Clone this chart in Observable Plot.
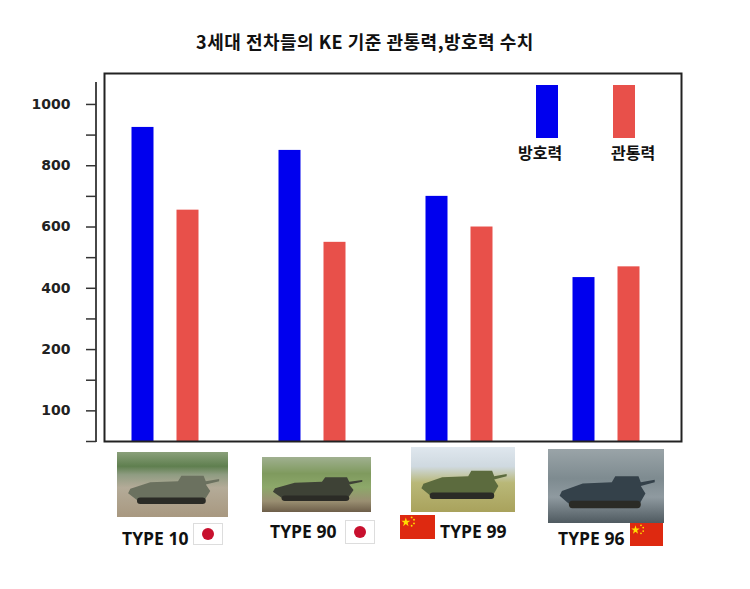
<!DOCTYPE html>
<html><head><meta charset="utf-8">
<script src="https://cdn.jsdelivr.net/npm/d3@7"></script>
<script src="https://cdn.jsdelivr.net/npm/@observablehq/plot@0.6"></script>
<style>
body{margin:0;background:#fff;}
#wrap{position:relative;width:750px;height:589px;overflow:hidden;font-family:"Noto Sans CJK KR","Noto Sans",sans-serif;}
#title{height:64px;box-sizing:border-box;padding-top:28px;padding-right:20px;text-align:center;font-weight:bold;font-size:18px;color:#111;letter-spacing:0.5px;}
#chart svg{display:block;}
.sw{position:absolute;}
.lg{position:absolute;font-weight:bold;font-size:16px;color:#111;}
.tlabel{position:absolute;font-family:"Open Sans",sans-serif;font-weight:bold;font-size:17.5px;color:#111;white-space:nowrap;}
.photo{position:absolute;overflow:hidden;}
.flagjp{position:absolute;background:#fff;border:1px solid #ddd;box-sizing:border-box;}
.flagjp::after{content:"";position:absolute;left:50%;top:50%;width:12px;height:12px;margin:-6px 0 0 -6px;border-radius:50%;background:#c8102e;}
.flagcn{position:absolute;background:#de2910;}
</style></head><body>
<div id="wrap">
<div id="title">3세대 전차들의 KE 기준 관통력,방호력 수치</div>
<div id="chart"></div>
</div>
<script>
// ---- data ----
const tanks = ["TYPE 10", "TYPE 90", "TYPE 99", "TYPE 96"];
const protection = [925, 850, 700, 435];   // 방호력
const penetration = [655, 550, 600, 470];  // 관통력
const seriesNames = ["방호력", "관통력"];
const seriesColors = ["#0000ee", "#e8504a"];
const tickValues = [0, 200, 400, 600, 800, 1000];
const tickLabels = ["100", "200", "400", "600", "800", "1000"];
const minorTicks = [-100, 0, 100, 200, 300, 400, 500, 600, 700, 800, 900, 1000];
const flags = ["JP", "JP", "CN", "CN"];
const yMin = -100, yMax = 1101;

const rows = tanks.flatMap((t, i) => [
  {tank: t, series: seriesNames[0], value: protection[i]},
  {tank: t, series: seriesNames[1], value: penetration[i]}
]);

const W = 750, H = 379, mL = 90, mR = 69, mT = 9, mB = 2;

const chart = Plot.plot({
  width: W, height: H,
  marginLeft: mL, marginRight: mR, marginTop: mT, marginBottom: mB,
  style: {background: "transparent", color: "#222"},
  x: {domain: tanks, paddingInner: 0.851, paddingOuter: 0.4255, axis: null},
  y: {domain: [yMin, yMax], axis: null},
  color: {domain: seriesNames, range: seriesColors},
  marks: [
    Plot.barY(rows.filter(d => d.series === seriesNames[0]), {x: "tank", y1: () => yMin, y2: "value", fill: "series", dx: -22.5}),
    Plot.barY(rows.filter(d => d.series === seriesNames[1]), {x: "tank", y1: () => yMin, y2: "value", fill: "series", dx: 22.5}),
    Plot.frame({insetLeft: 14, stroke: "#222", strokeWidth: 2}),
    Plot.axisY(minorTicks, {anchor: "left", label: null, tickSize: 10, dx: 6, stroke: "#333", strokeWidth: 1.5, tickFormat: () => ""}),
    Plot.axisY(tickValues, {anchor: "left", label: null, tickSize: 0, tickPadding: 26, dx: 6,
      tickFormat: d => tickLabels[tickValues.indexOf(d)],
      fontFamily: "DejaVu Sans", fontWeight: "bold", fontSize: 14, fill: "#222"})
  ]
});
document.getElementById("chart").appendChild(chart);

// vertical axis line drawn with the y scale
const ys = chart.scale("y");
d3.select(chart).append("line")
  .attr("x1", mL + 6).attr("x2", mL + 6)
  .attr("y1", ys.apply(1072)).attr("y2", ys.apply(yMin) + 1)
  .attr("stroke", "#333").attr("stroke-width", 1.8);

// ---- legend inside the plot ----
const wrap = document.getElementById("wrap");
function add(cls, style, html) {
  const el = document.createElement("div");
  el.className = cls;
  Object.assign(el.style, style);
  if (html) el.innerHTML = html;
  wrap.appendChild(el);
  return el;
}
const lgX = [536, 613], lgLabX = [518, 611];
seriesNames.forEach((s, i) => {
  add("sw", {left: lgX[i] + "px", top: "85px", width: "22px", height: "53px", background: seriesColors[i]});
  add("lg", {left: lgLabX[i] + "px", top: "140px"}, s);
});

// ---- photo placeholders, labels, flags ----
const photoBoxes = [
  {x: 117, y: 452, w: 111, h: 65, bg: "linear-gradient(#8aa07a 0%, #5f7f4f 22%, #8f9c82 35%, #b4ab98 55%, #a89880 100%)", tank: "#6b715f"},
  {x: 262, y: 457, w: 109, h: 55, bg: "linear-gradient(#a0b090 0%, #7f9a5e 30%, #8da86a 55%, #9a8f72 80%, #6d5e49 100%)", tank: "#3e4236"},
  {x: 411, y: 447, w: 104, h: 65, bg: "linear-gradient(#dfe7ee 0%, #cfd9e0 30%, #b9b878 55%, #a9a25c 100%)", tank: "#5c6b3e"},
  {x: 548, y: 449, w: 116, h: 74, bg: "linear-gradient(#9aa4a8 0%, #7e8b90 40%, #8f9aa0 65%, #4f5a60 100%)", tank: "#34414a"}
];
photoBoxes.forEach(p => {
  const el = add("photo", {left: p.x + "px", top: p.y + "px", width: p.w + "px", height: p.h + "px", background: p.bg});
  el.innerHTML = `<svg width="${p.w}" height="${p.h}" viewBox="0 0 100 60" preserveAspectRatio="none">
    <polygon points="12,34 30,28 55,27 58,22 78,22 80,27 92,25 92,27 80,30 84,36 78,46 20,46 10,38" fill="${p.tank}"/>
    <rect x="18" y="42" width="62" height="6" rx="3" fill="#2b2b26"/>
  </svg>`;
});

const labelPos = [{x: 122, y: 526}, {x: 270, y: 519}, {x: 440, y: 519}, {x: 558, y: 526}];
const flagPos = [{x: 193, y: 523, w: 30, h: 22}, {x: 345, y: 520, w: 30, h: 24}, {x: 400, y: 515, w: 35, h: 24}, {x: 630, y: 523, w: 33, h: 23}];
tanks.forEach((t, i) => {
  add("tlabel", {left: labelPos[i].x + "px", top: labelPos[i].y + "px"}, t);
  const f = flagPos[i];
  const fl = add(flags[i] === "JP" ? "flagjp" : "flagcn", {left: f.x + "px", top: f.y + "px", width: f.w + "px", height: f.h + "px"});
  if (flags[i] === "CN") {
    fl.innerHTML = `<svg width="${f.w}" height="${f.h}" viewBox="0 0 30 20" preserveAspectRatio="none">
      <polygon points="5,2 5.9,4.8 8.8,4.8 6.5,6.5 7.3,9.3 5,7.6 2.7,9.3 3.5,6.5 1.2,4.8 4.1,4.8" fill="#ffde00"/>
      <circle cx="10" cy="2" r="0.8" fill="#ffde00"/><circle cx="12" cy="4" r="0.8" fill="#ffde00"/>
      <circle cx="12" cy="7" r="0.8" fill="#ffde00"/><circle cx="10" cy="9" r="0.8" fill="#ffde00"/>
    </svg>`;
  }
});
</script>
</body></html>
